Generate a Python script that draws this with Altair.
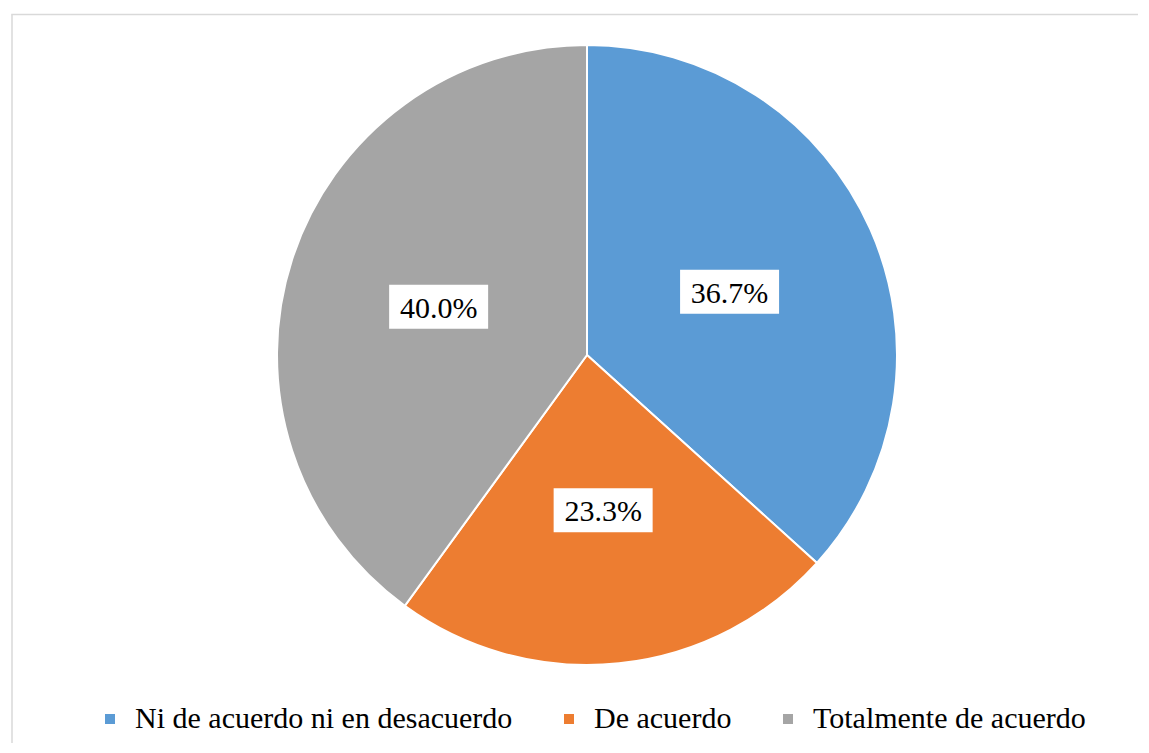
import altair as alt
import pandas as pd

categories = ["Ni de acuerdo ni en desacuerdo", "De acuerdo", "Totalmente de acuerdo"]
values = [36.7, 23.3, 40.0]
labels = ["36.7%", "23.3%", "40.0%"]
colors = ["#5B9BD5", "#ED7D31", "#A5A5A5"]

W, H = 1130, 735
CX, CY = 579, 347
R = 310
LR = 156
FONT = "Liberation Serif, Nimbus Roman, Tinos, FreeSerif, DejaVu Serif"

df = pd.DataFrame({
    "category": categories,
    "value": values,
    "label": labels,
    "order": list(range(len(categories))),
})

xs = alt.Scale(domain=[-CX, W - CX], nice=False, zero=False)
ys = alt.Scale(domain=[-(H - CY), CY], nice=False, zero=False)

base = alt.Chart(df)

color = alt.Color(
    "category:N",
    scale=alt.Scale(domain=categories, range=colors),
    sort=categories,
    legend=alt.Legend(
        title=None, orient="none", legendX=87, legendY=696,
        direction="horizontal", symbolType="square", symbolSize=100,
        symbolStrokeWidth=0, labelFont=FONT, labelFontSize=30,
        labelColor="black", labelLimit=1000, columnPadding=41, labelOffset=10,
    ),
)

pie = base.mark_arc(outerRadius=R, stroke="white", strokeWidth=2).encode(
    theta=alt.Theta("value:Q", stack=True),
    color=color,
    order=alt.Order("order:Q"),
    x=alt.value(CX),
    y=alt.value(CY),
)

pos = base.transform_joinaggregate(total="sum(value)").transform_window(
    cum="sum(value)", sort=[alt.SortField("order")], frame=[None, 0]
).transform_calculate(
    mid="(datum.cum - datum.value/2)/datum.total*2*PI",
).transform_calculate(
    lx=f"{LR}*sin(datum.mid)",
    ly=f"{LR}*cos(datum.mid)",
).transform_calculate(
    bx1="datum.lx-49.5", bx2="datum.lx+49.5",
    by1="datum.ly-22", by2="datum.ly+22",
)

boxes = pos.mark_rect(color="white").encode(
    x=alt.X("bx1:Q", scale=xs, axis=None),
    x2="bx2:Q",
    y=alt.Y("by1:Q", scale=ys, axis=None),
    y2="by2:Q",
)

texts = pos.mark_text(font=FONT, fontSize=30, baseline="alphabetic", dy=11,
                      align="center", color="black").encode(
    x=alt.X("lx:Q", scale=xs, axis=None),
    y=alt.Y("ly:Q", scale=ys, axis=None),
    text="label:N",
)

frame_df = pd.DataFrame({"k": [0]})
left = alt.Chart(frame_df).mark_rule(color="#D9D9D9", strokeWidth=1.5).encode(
    x=alt.value(4), y=alt.value(6.5), y2=alt.value(H)
)
top = alt.Chart(frame_df).mark_rule(color="#D9D9D9", strokeWidth=1.5).encode(
    x=alt.value(3.25), x2=alt.value(W), y=alt.value(6.5)
)

chart = alt.layer(left, top, pie, boxes, texts).properties(
    width=W, height=H, padding=0
).configure_view(strokeWidth=0)

chart.save("out.html", embed_options={"renderer": "svg", "actions": False})
